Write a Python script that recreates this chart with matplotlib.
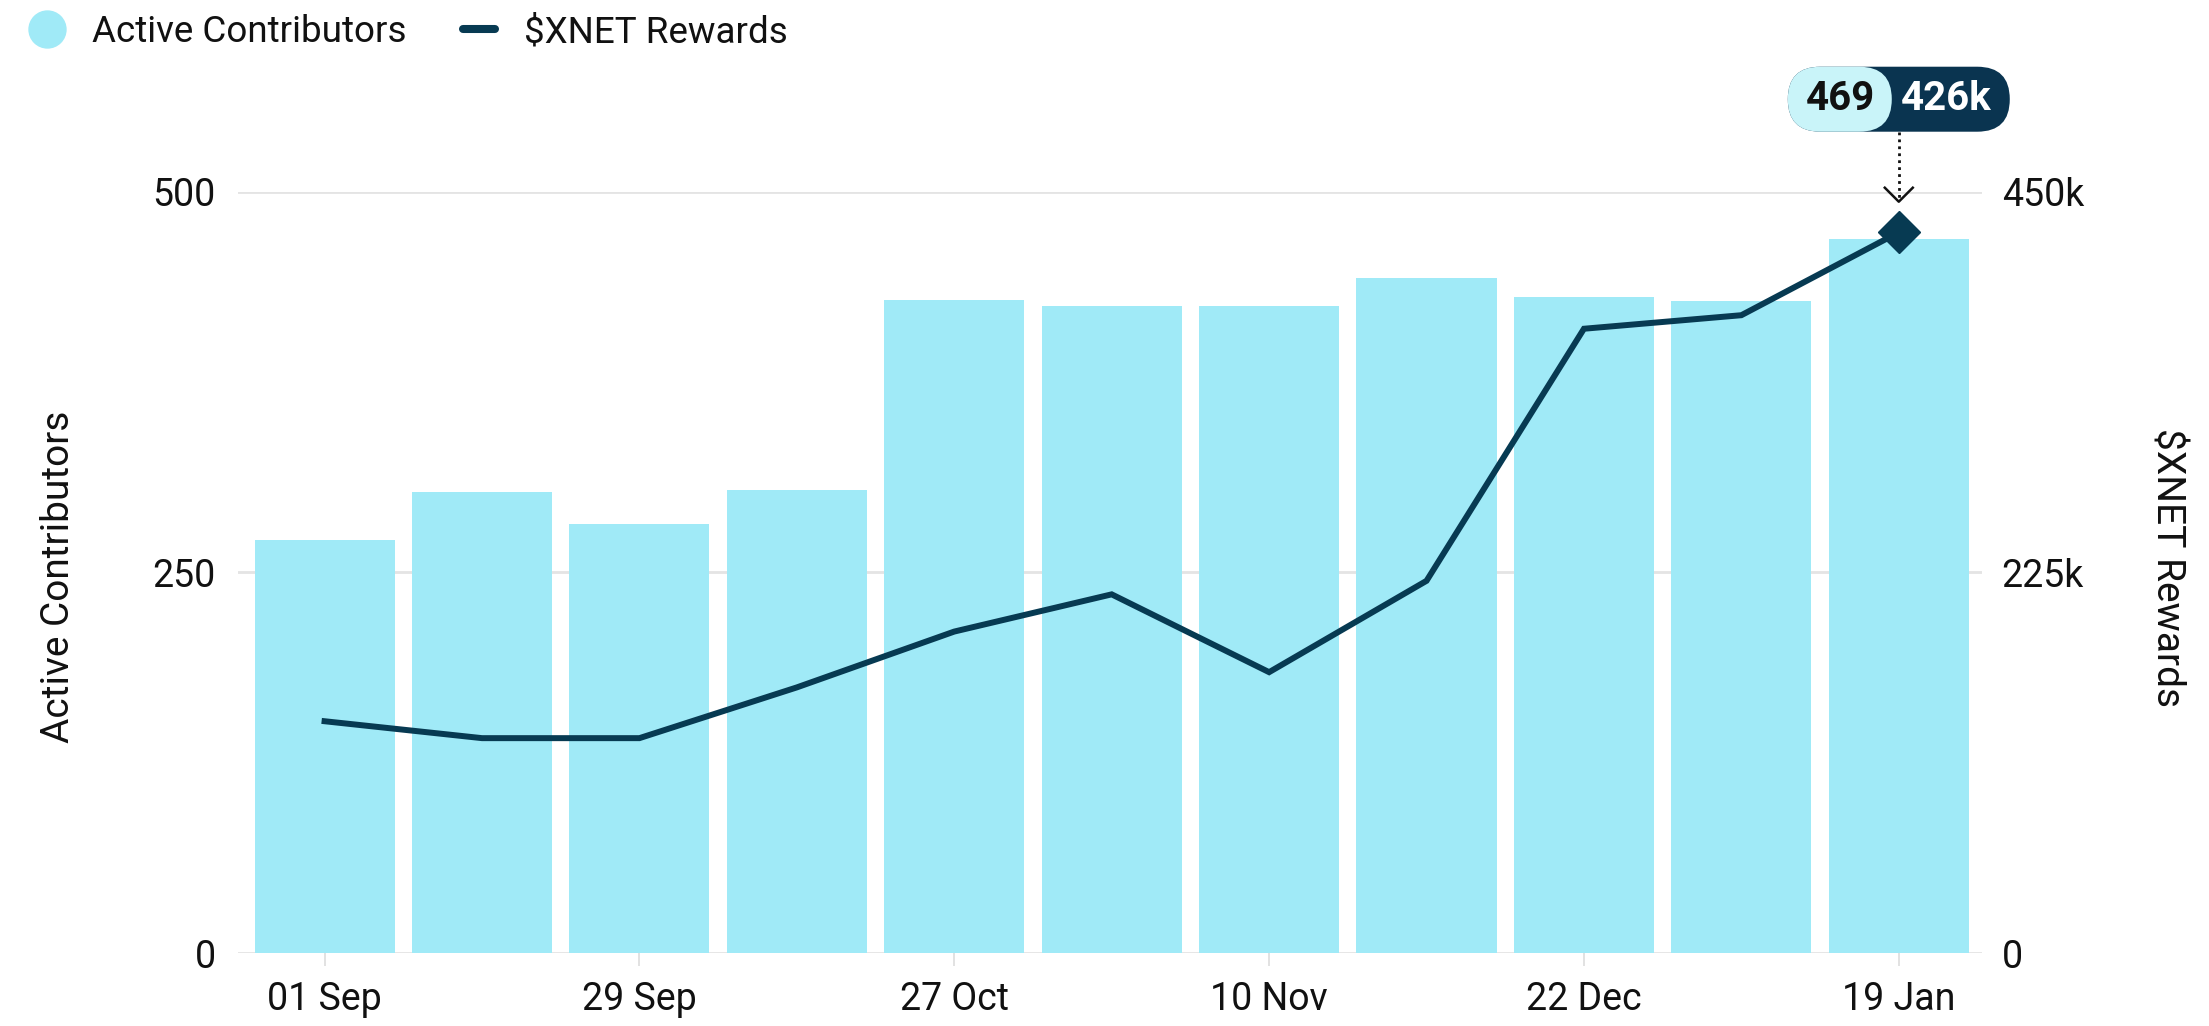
import matplotlib
matplotlib.use("Agg")
import matplotlib.pyplot as plt
from matplotlib.lines import Line2D
from matplotlib.patches import FancyBboxPatch
from matplotlib.transforms import IdentityTransform

plt.rcParams['font.family'] = ['Roboto', 'DejaVu Sans']

# data
weeks = list(range(11))
tick_pos = [0, 2, 4, 6, 8, 10]
tick_labels = ['01 Sep', '29 Sep', '27 Oct', '10 Nov', '22 Dec', '19 Jan']
contributors = [271, 303, 282, 304, 429, 425, 425, 443, 431, 428, 469]
rewards = [137000, 127000, 127000, 157000, 190000, 212000, 166000, 220000, 369000, 377000, 426000]
left_ticks = [0, 250, 500]
right_ticks = [0, 225000, 450000]
right_labels = ['0', '225k', '450k']

bar_color = '#a0eaf7'
line_color = '#073a52'
pill_light = '#c9f4f9'
pill_dark = '#0a3450'
grid_color = '#e4e4e4'
text_color = '#111111'

fig = plt.figure(figsize=(22.09, 10.26), dpi=100)
ax = fig.add_axes([0.10774, 0.07115, 0.7896, 0.742])
ax2 = ax.twinx()
ax2.set_position(ax.get_position())

ax.bar(weeks, contributors, width=0.89, color=bar_color, zorder=2)
ax.set_xlim(-0.55, 10.53)
ax.set_ylim(0, 500)
ax.set_yticks(left_ticks)
ax.set_yticklabels([str(t) for t in left_ticks])
ax.set_axisbelow(True)
ax.yaxis.grid(True, color=grid_color, linewidth=2)
ax.set_xticks(tick_pos)
ax.set_xticklabels(tick_labels)
ax.tick_params(axis='x', length=9.4, width=1.2, color='#dddddd', pad=11,
               labelsize=27, labelcolor=text_color)
ax.tick_params(axis='y', length=0, pad=16, labelsize=27, labelcolor=text_color)
for s in ax.spines.values():
    s.set_visible(False)

ax2.plot(weeks, rewards, color=line_color, linewidth=4.3, solid_joinstyle='miter', zorder=3)
ax2.plot(weeks[-1], rewards[-1], marker='D', markersize=21, color=line_color, zorder=4)
ax2.set_ylim(0, 450000)
ax2.set_yticks(right_ticks)
ax2.set_yticklabels(right_labels)
ax2.tick_params(axis='y', length=0, pad=14, labelsize=27, labelcolor=text_color)
for s in ax2.spines.values():
    s.set_visible(False)

# axis titles
fig.text(59 / 2209, 0.4376, 'Active Contributors', rotation=90, ha='center', va='center',
         fontsize=28, color=text_color)
fig.text(2167 / 2209, 0.447, '$XNET Rewards', rotation=270, ha='center', va='center',
         fontsize=28, color=text_color)

# legend
handles = [
    Line2D([], [], marker='o', linestyle='none', markersize=26.6, color=bar_color),
    Line2D([], [], color=line_color, linewidth=5.8, solid_capstyle='round'),
]
fig.legend(handles, ['Active Contributors', '$XNET Rewards'], loc='center left',
           bbox_to_anchor=(31 / 2209, 1 - 32 / 1026), ncol=2, frameon=False,
           fontsize=26.5, handlelength=0.85, handletextpad=0.8, columnspacing=1.55,
           borderpad=0, borderaxespad=0, labelcolor=text_color)

# tooltip pill over last point
px, py = ax2.transData.transform((weeks[-1], rewards[-1]))
top = ax.transAxes.transform((0, 1))[1]
pill_h = 65
pill_y0 = top + 60
full = FancyBboxPatch((px - 111, pill_y0), 222, pill_h,
                      boxstyle='round,pad=0,rounding_size=32.5',
                      transform=IdentityTransform(), facecolor=pill_dark, edgecolor='none')
light = FancyBboxPatch((px - 111, pill_y0), 104, pill_h,
                       boxstyle='round,pad=0,rounding_size=32.5',
                       transform=IdentityTransform(), facecolor=pill_light, edgecolor='none')
fig.add_artist(full)
fig.add_artist(light)
cy = pill_y0 + pill_h / 2
fig.text((px - 58) / 2209, cy / 1026, f'{contributors[-1]}', ha='center', va='center',
         fontsize=29, fontweight='bold', color='#111111')
fig.text((px + 47) / 2209, cy / 1026, f'{rewards[-1] // 1000}k', ha='center', va='center',
         fontsize=29, fontweight='bold', color='white')

# dotted pointer with open arrow head
tip_y = top - 10
fig.add_artist(Line2D([px, px], [pill_y0, tip_y + 4], transform=IdentityTransform(),
                      color='#111111', linewidth=2, linestyle=(0, (1, 1.5))))
fig.add_artist(Line2D([px - 14, px, px + 14], [tip_y + 14, tip_y, tip_y + 14],
                      transform=IdentityTransform(), color='#111111', linewidth=1.8))

fig.savefig('out.png', dpi=100)
